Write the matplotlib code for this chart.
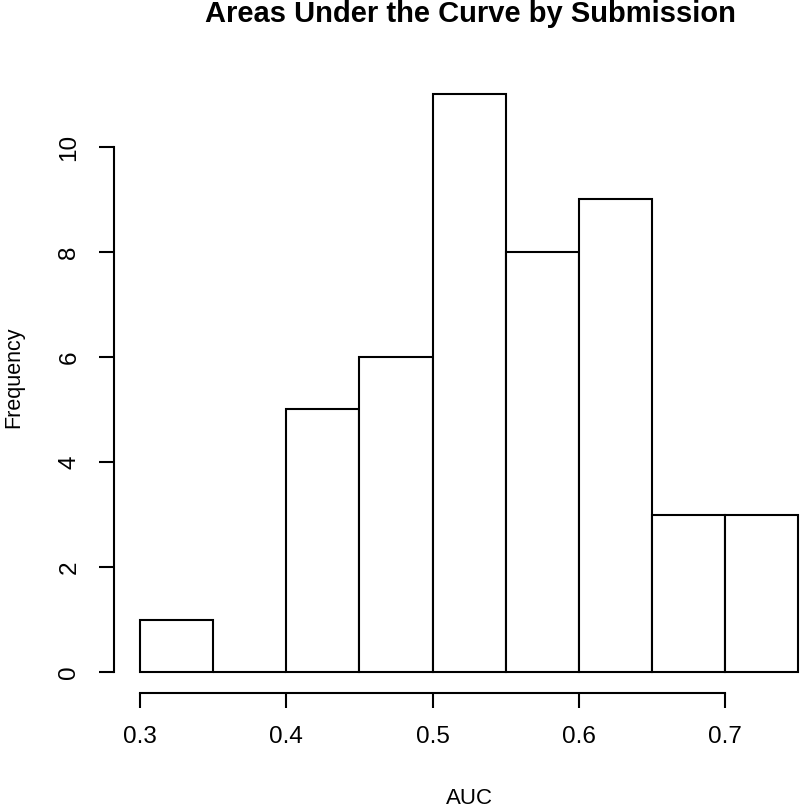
import matplotlib
matplotlib.use("Agg")
import matplotlib.pyplot as plt

plt.rcParams['font.family'] = ['Liberation Sans', 'DejaVu Sans']

# histogram of AUC values, bin width 0.05
bin_edges = [0.30, 0.35, 0.40, 0.45, 0.50, 0.55, 0.60, 0.65, 0.70, 0.75]
counts = [1, 0, 5, 6, 11, 8, 9, 3, 3]
x_ticks = [0.3, 0.4, 0.5, 0.6, 0.7]
x_tick_labels = ["0.3", "0.4", "0.5", "0.6", "0.7"]
y_ticks = [0, 2, 4, 6, 8, 10]

W, H = 800, 808
fig = plt.figure(figsize=(W / 100, H / 100), dpi=100)

# plot region in pixels (R-like 4% extension)
left, right, top, bottom = 113.7, 824.5, 71.4, 695.1
ax = fig.add_axes([left / W, 1 - bottom / H, (right - left) / W, (bottom - top) / H])

widths = [bin_edges[i + 1] - bin_edges[i] for i in range(len(counts))]
ax.bar(bin_edges[:-1], counts, width=widths, align='edge',
       facecolor='white', edgecolor='black', linewidth=1.5)

ax.set_xlim(0.282, 0.768)
ax.set_ylim(-0.44, 11.44)

for s in ['top', 'right']:
    ax.spines[s].set_visible(False)
ax.spines['left'].set_bounds(0, 10)
ax.spines['bottom'].set_bounds(0.3, 0.7)
ax.spines['bottom'].set_position(('outward', -1.5))
for s in ['left', 'bottom']:
    ax.spines[s].set_linewidth(1.5)

ax.set_xticks(x_ticks)
ax.set_xticklabels(x_tick_labels)
ax.set_yticks(y_ticks)
ax.tick_params(axis='both', length=11, width=1.5, labelsize=17.5, pad=13)
ax.tick_params(axis='y', labelrotation=90)
for lab in ax.get_yticklabels():
    lab.set_verticalalignment('center')

fig.text(470 / W, 1 - 14 / H, "Areas Under the Curve by Submission",
         ha='center', va='center', fontsize=21, fontweight='bold')
fig.text(469 / W, 1 - 799 / H, "AUC", ha='center', va='center', fontsize=16)
fig.text(14 / W, 1 - 377 / H, "Frequency", ha='center', va='center',
         fontsize=15.5, rotation=90)

fig.savefig("out.png", dpi=100)
